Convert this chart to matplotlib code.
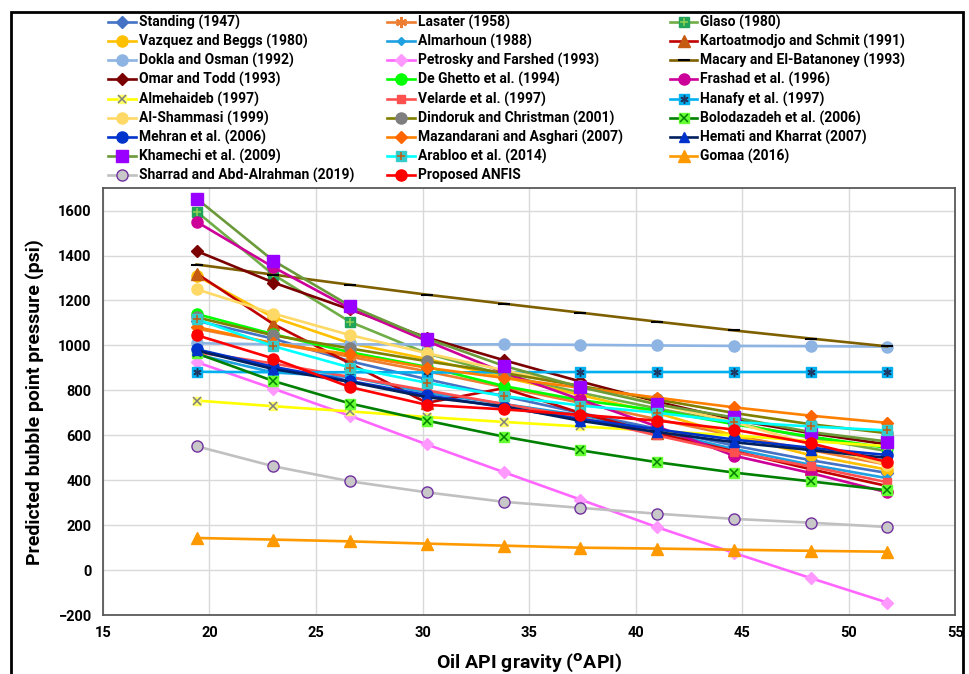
import numpy as np
import matplotlib.pyplot as plt
from matplotlib.patches import Rectangle

plt.rcParams['font.family'] = ['Roboto', 'DejaVu Sans']
plt.rcParams['font.weight'] = 'bold'
plt.rcParams['axes.labelweight'] = 'bold'
plt.rcParams['mathtext.default'] = 'bf'

# API gravity of the test points
api = [19.4, 23.0, 26.6, 30.2, 33.8, 37.4, 41.0, 44.6, 48.2, 51.8]

names = ['Standing (1947)', 'Lasater (1958)', 'Glaso (1980)',
         'Vazquez and Beggs (1980)', 'Almarhoun (1988)', 'Kartoatmodjo and Schmit (1991)',
         'Dokla and Osman (1992)', 'Petrosky and Farshed (1993)', 'Macary and El-Batanoney (1993)',
         'Omar and Todd (1993)', 'De Ghetto et al. (1994)', 'Frashad et al. (1996)',
         'Almehaideb (1997)', 'Velarde et al. (1997)', 'Hanafy et al. (1997)',
         'Al-Shammasi (1999)', 'Dindoruk and Christman (2001)', 'Bolodazadeh et al. (2006)',
         'Mehran et al. (2006)', 'Mazandarani and Asghari (2007)', 'Hemati and Kharrat (2007)',
         'Khamechi et al. (2009)', 'Arabloo et al. (2014)', 'Gomaa (2016)',
         'Sharrad and Abd-Alrahman (2019)', 'Proposed ANFIS']

# predicted bubble point pressure (psi)
standing     = [1110, 1030, 930, 850, 775, 700, 630, 555, 490, 433]
lasater      = [1075, 1010, 950, 885, 815, 745, 672, 600, 535, 470]
glaso        = [1595, 1315, 1105, 965, 870, 790, 720, 655, 590, 530]
vazquez      = [1310, 1125, 1010, 940, 860, 780, 700, 600, 512, 448]
almarhoun    = [960, 880, 860, 790, 740, 690, 620, 540, 470, 410]
kartoatmodjo = [1320, 1095, 920, 745, 810, 700, 610, 530, 450, 375]
dokla        = [1010, 1005, 1005, 1005, 1005, 1003, 1000, 998, 997, 995]
petrosky     = [926, 808, 687, 560, 437, 315, 192, 78, -34, -143]
macary       = [1360, 1315, 1270, 1226, 1186, 1146, 1106, 1067, 1031, 996]
omar         = [1420, 1280, 1160, 1035, 935, 840, 750, 670, 610, 560]
deghetto     = [1140, 1050, 970, 905, 820, 757, 712, 650, 595, 545]
frashad      = [1550, 1348, 1165, 1020, 880, 760, 640, 510, 433, 347]
almehaideb   = [755, 730, 707, 682, 660, 640, 620, 600, 575, 552]
velarde      = [970, 920, 860, 800, 740, 680, 600, 525, 462, 392]
hanafy       = [883, 881, 881, 880, 881, 882, 882, 882, 882, 882]
alshammasi   = [1250, 1142, 1046, 966, 890, 820, 740, 660, 560, 470]
dindoruk     = [1125, 1045, 987, 930, 878, 820, 760, 700, 650, 610]
bolodazadeh  = [965, 842, 742, 666, 595, 534, 481, 435, 396, 356]
mehran       = [983, 905, 842, 779, 725, 673, 627, 582, 545, 513]
mazandarani  = [1082, 1010, 960, 901, 856, 812, 768, 725, 688, 656]
hemati       = [978, 895, 838, 770, 730, 665, 615, 570, 535, 500]
khamechi     = [1653, 1377, 1176, 1031, 910, 815, 738, 680, 615, 573]
arabloo      = [1117, 997, 902, 834, 775, 733, 701, 660, 640, 622]
gomaa        = [144, 137, 129, 119, 110, 101, 97, 92, 87, 83]
sharrad      = [552, 463, 396, 347, 305, 278, 252, 229, 212, 193]
anfis        = [1046, 942, 815, 736, 716, 692, 666, 626, 565, 482]

values = [standing, lasater, glaso, vazquez, almarhoun, kartoatmodjo, dokla, petrosky,
          macary, omar, deghetto, frashad, almehaideb, velarde, hanafy, alshammasi,
          dindoruk, bolodazadeh, mehran, mazandarani, hemati, khamechi, arabloo, gomaa,
          sharrad, anfis]

# line colour, marker, face, edge, size, overlay marker, overlay colour
styles = [
    ('#4472C4', 'D', '#4472C4', '#4472C4', 6, None, None),
    ('#ED7D31', (6, 2, 0), '#ED7D31', '#ED7D31', 8, None, None),
    ('#70AD47', 's', '#21A35A', '#21A35A', 7, '+', '#92D050'),
    ('#FFC000', 'o', '#FFC000', '#FFC000', 8, None, None),
    ('#1FA0E0', 'D', '#1FA0E0', '#1FA0E0', 4, None, None),
    ('#C00000', '^', '#C55A11', '#C55A11', 8, None, None),
    ('#8DB4E2', 'o', '#8DB4E2', '#8DB4E2', 8, None, None),
    ('#FF66FF', 'D', '#FF99FF', '#FF99FF', 6, None, None),
    ('#7F6000', '_', 'black', 'black', 9, None, None),
    ('#7B0000', 'D', '#7B0000', '#7B0000', 6, None, None),
    ('#00FF00', 'o', '#00FF00', '#00FF00', 8, None, None),
    ('#CC0099', 'o', '#CC0099', '#CC0099', 8, None, None),
    ('#FFFF00', 's', '#FFFF66', '#FFFF66', 6, 'x', '#7F7F7F'),
    ('#FF5050', 's', '#FF5050', '#FF5050', 6, None, None),
    ('#00B0F0', 's', '#00B0F0', '#00B0F0', 7, (6, 2, 0), '#1F3864'),
    ('#FFD966', 'o', '#FFD966', '#FFD966', 8, None, None),
    ('#808000', 'o', '#7F7F7F', '#7F7F7F', 8, None, None),
    ('#008000', 's', '#66FF33', '#66FF33', 7, 'x', '#008000'),
    ('#0033CC', 'o', '#0033CC', '#0033CC', 8, None, None),
    ('#FF8000', 'D', '#FF6600', '#FF6600', 6, None, None),
    ('#002060', '^', '#0033CC', '#0033CC', 7, None, None),
    ('#6B9A3A', 's', '#9900FF', '#9900FF', 8, None, None),
    ('#00FFFF', 's', '#33CCCC', '#33CCCC', 7, '+', '#C55A11'),
    ('#FF9900', '^', '#FF9900', '#FF9900', 8, None, None),
    ('#C0C0C0', 'o', '#C8C8C8', '#7030A0', 8, None, None),
    ('#FF0000', 'o', '#FF0000', '#FF0000', 8, None, None),
]

fig = plt.figure(figsize=(9.7, 6.74), dpi=100)
ax = fig.add_axes([0.106, 0.087, 0.879, 0.634])

handles = []
for name, vals, st in zip(names, values, styles):
    lc, mk, fc, ec, ms, ov, oc = st
    l1, = ax.plot(api, vals, color=lc, lw=1.9, marker=mk, mfc=fc, mec=ec, ms=ms,
                  mew=1.5 if mk == '_' or isinstance(mk, tuple) else 1)
    if ov:
        l2, = ax.plot(api, vals, ls='none', marker=ov, color=oc, ms=ms * 0.85, mew=1.1)
        handles.append((l1, l2))
    else:
        handles.append(l1)

ax.set_xlim(15, 55)
ax.set_ylim(-200, 1700)
ax.set_xticks(np.arange(15, 56, 5))
ax.set_yticks(np.arange(-200, 1601, 200))
ax.grid(color='#D9D9D9', lw=1)
ax.set_axisbelow(True)
ax.tick_params(length=0, labelsize=10.5, pad=8)
for lab in ax.get_xticklabels() + ax.get_yticklabels():
    lab.set_fontweight('bold')
for s in ax.spines.values():
    s.set_color('#595959')
    s.set_linewidth(1.3)
ax.set_xlabel('Oil API gravity ($^{o}$API)', fontsize=14, labelpad=8)
ax.set_ylabel('Predicted bubble point pressure (psi)', fontsize=14, labelpad=10)

# legend laid out row by row in three columns
for i, xpos in enumerate([0.110, 0.398, 0.689]):
    fig.legend(handles[i::3], names[i::3], loc='upper left', bbox_to_anchor=(xpos, 0.980),
               frameon=False, fontsize=10, handlelength=2.0, handletextpad=0.2,
               labelspacing=0.3, borderpad=0.1, borderaxespad=0)

fig.add_artist(Rectangle((0.011, -0.01), 0.982, 0.992, transform=fig.transFigure,
                         fill=False, ec='black', lw=2))

fig.savefig('out.png', dpi=100)
